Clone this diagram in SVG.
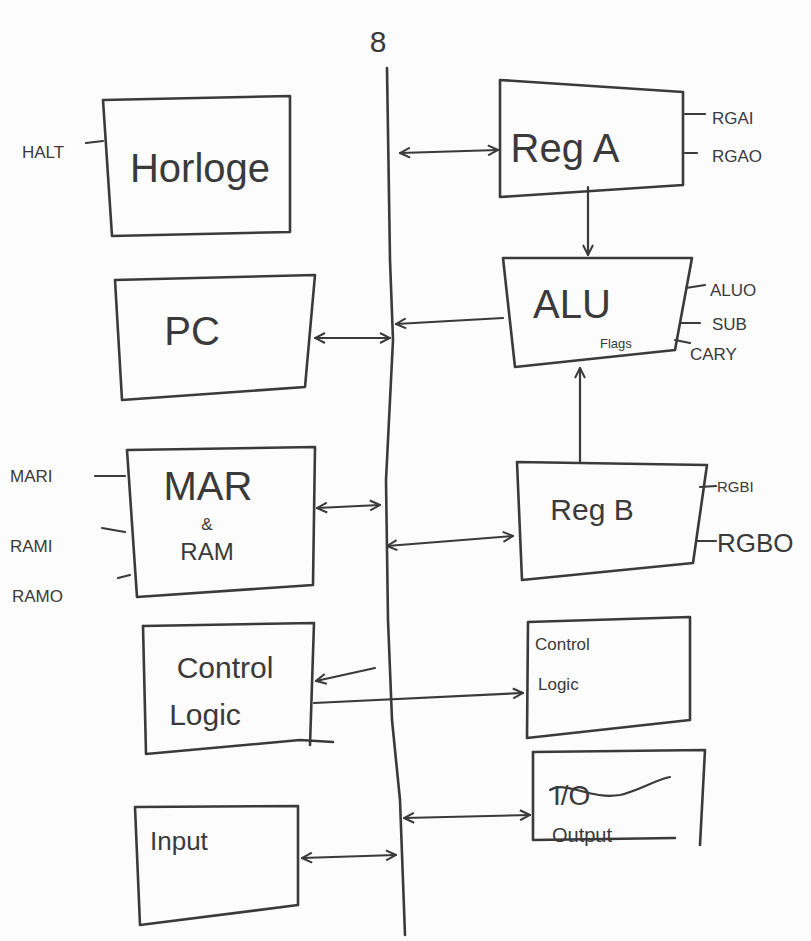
<svg xmlns="http://www.w3.org/2000/svg" width="811" height="941" viewBox="0 0 811 941">
<style>
.b{fill:none;stroke:#3a3a3a;stroke-width:2.6;stroke-linecap:round;stroke-linejoin:round}
.c{fill:none;stroke:#3a3a3a;stroke-width:2.2;stroke-linecap:round}
text{font-family:"Liberation Sans","DejaVu Sans",sans-serif;fill:#3a3a3a}
.big{font-size:40px}
.mid{font-size:30px}
.sm{font-size:17px}
</style>
<defs>
<marker id="ah" viewBox="0 0 12 12" refX="11" refY="6" markerWidth="12" markerHeight="12" markerUnits="userSpaceOnUse" orient="auto-start-reverse">
<path d="M1,1 L11,6 L1,11" fill="none" stroke="#3a3a3a" stroke-width="2"/>
</marker>
</defs>
<rect width="811" height="941" fill="#fcfcfc"/>
<g id="bus">
<path class="b" d="M387,68 L390,260 L393,340 L386,480 L388,620 L392,720 L400,800 L405,935"/>
<text x="378" y="52" class="mid" text-anchor="middle">8</text>
</g>
<g id="horloge">
<path class="b" d="M103,100 L290,96 L290,232 L112,236 Z"/>
<text x="200" y="182" class="big" text-anchor="middle">Horloge</text>
<text x="22" y="158" class="sm">HALT</text>
<path class="c" d="M86,143 L103,141"/>
</g>
<g id="pc">
<path class="b" d="M115,280 L315,275 L305,387 L122,400 Z"/>
<text x="192" y="345" class="big" text-anchor="middle">PC</text>
</g>
<g id="mar">
<path class="b" d="M127,450 L315,447 L313,585 L137,597 Z"/>
<text x="208" y="500" class="big" text-anchor="middle">MAR</text>
<text x="207" y="530" class="sm" text-anchor="middle">&amp;</text>
<text x="207" y="560" font-size="24" text-anchor="middle">RAM</text>
<text x="10" y="482" class="sm">MARI</text>
<path class="c" d="M95,476 L125,476"/>
<text x="10" y="552" class="sm">RAMI</text>
<path class="c" d="M102,528 L125,532"/>
<text x="12" y="602" class="sm">RAMO</text>
<path class="c" d="M118,578 L130,575"/>
</g>
<g id="ctrl-left">
<path class="b" d="M143,626 L314,623 L310,745"/>
<path class="b" d="M143,626 L146,754 L300,740 L333,742"/>
<text x="225" y="678" class="mid" text-anchor="middle">Control</text>
<text x="205" y="725" class="mid" text-anchor="middle">Logic</text>
</g>
<g id="input">
<path class="b" d="M135,807 L298,806 L298,905 L140,925 Z"/>
<text x="150" y="850" font-size="26">Input</text>
</g>
<g id="rega">
<path class="b" d="M500,80 L683,92 L683,185 L500,197 Z"/>
<text x="565" y="162" class="big" text-anchor="middle">Reg A</text>
<text x="712" y="124" class="sm">RGAI</text>
<path class="c" d="M685,114 L705,114"/>
<text x="712" y="162" class="sm">RGAO</text>
<path class="c" d="M685,153 L697,153"/>
</g>
<g id="alu">
<path class="b" d="M503,258 L692,258 L675,350 L515,367 Z"/>
<text x="572" y="318" class="big" text-anchor="middle">ALU</text>
<text x="600" y="348" font-size="13">Flags</text>
<text x="710" y="296" class="sm">ALUO</text>
<path class="c" d="M686,288 L705,285"/>
<text x="712" y="330" class="sm">SUB</text>
<path class="c" d="M680,323 L700,323"/>
<text x="690" y="360" class="sm">CARY</text>
<path class="c" d="M675,340 L690,343"/>
</g>
<g id="regb">
<path class="b" d="M517,462 L707,465 L693,563 L522,580 Z"/>
<text x="592" y="520" class="mid" text-anchor="middle">Reg B</text>
<text x="717" y="492" font-size="15">RGBI</text>
<path class="c" d="M700,487 L716,486"/>
<text x="717" y="552" font-size="26">RGBO</text>
<path class="c" d="M697,541 L716,541"/>
</g>
<g id="ctrl-right">
<path class="b" d="M528,622 L690,617 L690,720 L527,738 Z"/>
<text x="535" y="650" class="sm">Control</text>
<text x="538" y="690" class="sm">Logic</text>
</g>
<g id="output">
<path class="b" d="M533,752 L705,750 L700,845"/>
<path class="b" d="M533,752 L533,840 L675,838"/>
<text x="553" y="805" font-size="28">I/O</text>
<path class="c" d="M550,790 C565,780 590,800 620,795 C640,790 655,780 670,777"/>
<text x="552" y="842" font-size="20">Output</text>
</g>
<g id="connectors">
<path class="c" d="M400,153 L498,150" marker-start="url(#ah)" marker-end="url(#ah)"/>
<path class="c" d="M588,187 L588,255" marker-end="url(#ah)"/>
<path class="c" d="M503,318 L396,324" marker-end="url(#ah)"/>
<path class="c" d="M315,338 L390,338" marker-start="url(#ah)" marker-end="url(#ah)"/>
<path class="c" d="M580,462 L580,368" marker-end="url(#ah)"/>
<path class="c" d="M317,508 L380,505" marker-start="url(#ah)" marker-end="url(#ah)"/>
<path class="c" d="M387,546 L513,536" marker-start="url(#ah)" marker-end="url(#ah)"/>
<path class="c" d="M375,668 L316,681" marker-end="url(#ah)"/>
<path class="c" d="M314,703 L523,693" marker-end="url(#ah)"/>
<path class="c" d="M404,818 L530,815" marker-start="url(#ah)" marker-end="url(#ah)"/>
<path class="c" d="M302,858 L396,855" marker-start="url(#ah)" marker-end="url(#ah)"/>
</g>
</svg>
